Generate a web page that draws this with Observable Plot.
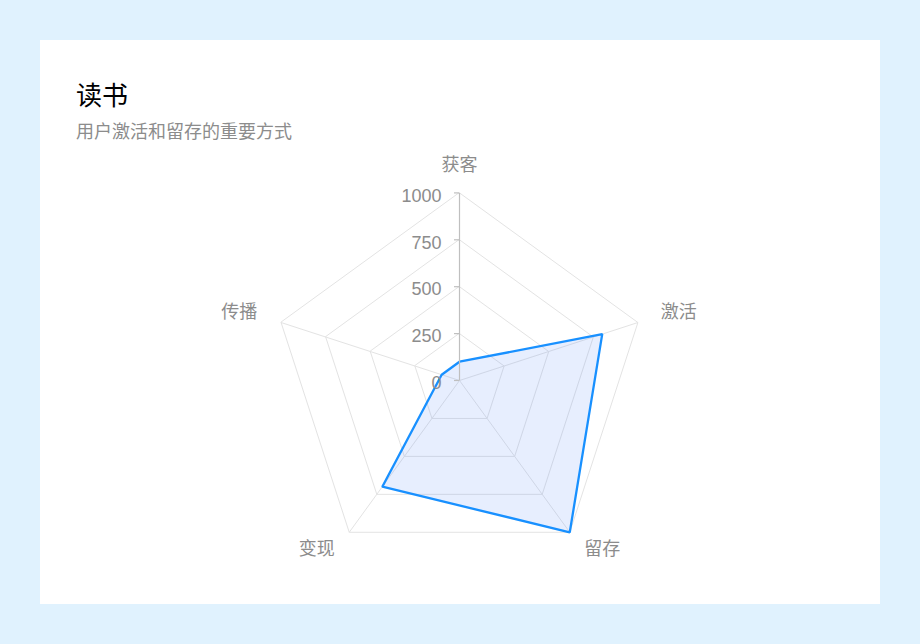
<!DOCTYPE html>
<html>
<head>
<meta charset="utf-8">
<script src="https://cdn.jsdelivr.net/npm/d3@7"></script>
<script src="https://cdn.jsdelivr.net/npm/@observablehq/plot@0.6"></script>
<style>
  html, body { margin: 0; padding: 0; }
  body { width: 920px; height: 644px; background: #e0f2fe; position: relative; overflow: hidden;
         font-family: "Noto Sans CJK SC", "Liberation Sans", sans-serif; }
  #card { position: absolute; left: 40px; top: 40px; width: 840px; height: 564px; background: #fff; }
  #title { position: absolute; left: 36px; top: 37px; font-size: 26px; line-height: 34px; color: #000; }
  #subtitle { position: absolute; left: 36px; top: 78px; font-size: 18px; line-height: 24px; color: #8c8c8c; }
  #chart { position: absolute; left: 0; top: 110px; }
</style>
</head>
<body>
<div id="card">
  <div id="title">读书</div>
  <div id="subtitle">用户激活和留存的重要方式</div>
  <div id="chart"></div>
</div>
<script>
const categories = ["获客", "激活", "留存", "变现", "传播"];
const values = [100, 800, 1000, 700, 100];
const ringLevels = [250, 500, 750, 1000];
const tickValues = [0, 250, 500, 750, 1000];
const tickLabels = ["0", "250", "500", "750", "1000"];
const maxValue = 1000;

const W = 840, H = 454;
const cx = 419, cy = 230, R = 187.6;
const pxPerUnit = R / maxValue;

const n = categories.length;
const angle = i => (i * 2 * Math.PI) / n;
const px = (v, i) => v * Math.sin(angle(i));
const py = (v, i) => v * Math.cos(angle(i));

const dataPts = categories.map((c, i) => ({c, x: px(values[i], i), y: py(values[i], i)}));
const rings = ringLevels.flatMap(lv => categories.map((c, i) => ({lv, x: px(lv, i), y: py(lv, i)})));
const spokes = categories.map((c, i) => ({x1: 0, y1: 0, x2: px(maxValue, i), y2: py(maxValue, i)}));
const labelR = maxValue * 1.15;
const labels = categories.map((c, i) => {
  const sx = Math.sin(angle(i)), sy = Math.cos(angle(i));
  return {c, x: px(labelR, i), y: py(labelR, i), sy,
          anchor: Math.abs(sx) < 0.1 ? "middle" : (sx > 0 ? "start" : "end")};
});
const ticks = tickValues.map((v, i) => ({v, label: tickLabels[i]}));
const tickLen = 5 / pxPerUnit;

const labelStyle = {x: "x", y: "y", text: "c", fontSize: 18, fill: "#8c8c8c", fontFamily: '"Noto Sans CJK SC", sans-serif'};

const chart = Plot.plot({
  width: W,
  height: H,
  margin: 0,
  style: {fontFamily: '"Liberation Sans", "Noto Sans CJK SC", sans-serif', background: "transparent", overflow: "visible"},
  x: {domain: [-maxValue, maxValue], range: [cx - R, cx + R], axis: null},
  y: {domain: [-maxValue, maxValue], range: [cy + R, cy - R], axis: null},
  marks: [
    Plot.line(rings, {x: "x", y: "y", z: "lv", curve: "linear-closed", stroke: "#e3e3e3", strokeWidth: 1}),
    Plot.link(spokes, {x1: "x1", y1: "y1", x2: "x2", y2: "y2", stroke: "#e3e3e3", strokeWidth: 1}),
    Plot.line(dataPts, {x: "x", y: "y", curve: "linear-closed", fill: "#5b8ff9", fillOpacity: 0.15, stroke: "#1890ff", strokeWidth: 2.3, strokeLinejoin: "miter"}),
    Plot.link([{}], {x1: 0, x2: 0, y1: 0, y2: maxValue, stroke: "#bfbfbf", strokeWidth: 1.2}),
    Plot.ruleY(ticks, {y: "v", x1: -tickLen, x2: 0, stroke: "#bfbfbf", strokeWidth: 1.2}),
    Plot.text(ticks, {y: "v", x: 0, text: "label", textAnchor: "end", dx: -18, dy: 3, fontSize: 18, fill: "#8c8c8c"}),
    Plot.text(labels.filter(d => d.anchor === "middle"), {...labelStyle, textAnchor: "middle"}),
    Plot.text(labels.filter(d => d.anchor === "start" && d.sy > 0), {...labelStyle, textAnchor: "start", dx: -4, dy: -2}),
    Plot.text(labels.filter(d => d.anchor === "end" && d.sy > 0), {...labelStyle, textAnchor: "end", dx: 3, dy: -2}),
    Plot.text(labels.filter(d => d.anchor === "start" && d.sy < 0), {...labelStyle, textAnchor: "start", dx: -2, dy: -6}),
    Plot.text(labels.filter(d => d.anchor === "end" && d.sy < 0), {...labelStyle, textAnchor: "end", dx: 2, dy: -6})
  ]
});
document.getElementById("chart").appendChild(chart);
</script>
</body>
</html>
